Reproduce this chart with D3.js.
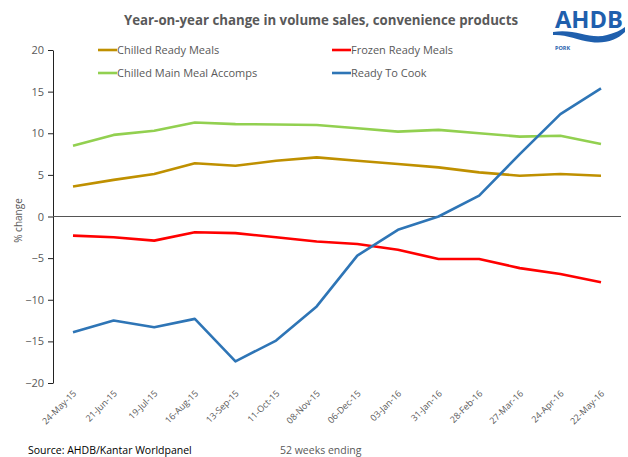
<!DOCTYPE html>
<html>
<head>
<meta charset="utf-8">
<script src="https://cdn.jsdelivr.net/npm/d3@7"></script>
<style>
  body { margin: 0; background: #fff; }
  text { font-family: "Open Sans", "Liberation Sans", sans-serif; fill: #595959; }
</style>
</head>
<body>
<div id="chart"></div>
<script>
const dates = ['24-May-15', '21-Jun-15', '19-Jul-15', '16-Aug-15', '13-Sep-15', '11-Oct-15', '08-Nov-15',
    '06-Dec-15', '03-Jan-16', '31-Jan-16', '28-Feb-16', '27-Mar-16', '24-Apr-16', '22-May-16'];

const chilledReady = [3.6, 4.4, 5.1, 6.4, 6.1, 6.7, 7.1, 6.7, 6.3, 5.9, 5.3, 4.9, 5.1, 4.9];
const frozenReady = [-2.3, -2.5, -2.9, -1.9, -2.0, -2.5, -3.0, -3.3, -4.0, -5.1, -5.1, -6.2, -6.9, -7.9];
const chilledAccomps = [8.5, 9.8, 10.3, 11.3, 11.1, 11.05, 11.0, 10.6, 10.2, 10.4, 10.0, 9.6, 9.7, 8.7];
const readyToCook = [-13.9, -12.5, -13.3, -12.3, -17.4, -14.9, -10.8, -4.7, -1.6, 0.0, 2.5, 7.5, 12.3, 15.4];

const yTicks = [-20, -15, -10, -5, 0, 5, 10, 15, 20];

const series = [
    { name: 'Chilled Ready Meals', values: chilledReady, color: '#BF9000' },
    { name: 'Frozen Ready Meals', values: frozenReady, color: '#FF0000' },
    { name: 'Chilled Main Meal Accomps', values: chilledAccomps, color: '#92D050' },
    { name: 'Ready To Cook', values: readyToCook, color: '#2E75B6' }
];

const width = 628, height = 457;
const svg = d3.select('#chart').append('svg')
    .attr('width', width)
    .attr('height', height);

const x = d3.scalePoint().domain(dates).range([73, 601]);
const y = d3.scaleLinear().domain([-20, 20]).range([383, 50]);

// title
svg.append('text')
    .attr('x', 124).attr('y', 25)
    .attr('font-size', 13.5).attr('font-weight', 'bold')
    .attr('textLength', 394).attr('lengthAdjust', 'spacingAndGlyphs')
    .text('Year-on-year change in volume sales, convenience products');

// logo
const logo = svg.append('g').attr('transform', 'translate(555,0)');
logo.append('text')
    .attr('x', 0).attr('y', 28)
    .attr('font-size', 24).attr('font-weight', 'bold')
    .attr('textLength', 68).attr('lengthAdjust', 'spacingAndGlyphs')
    .style('fill', '#1F5FAD')
    .text('AHDB');
logo.append('path')
    .attr('d', 'M-2,32 C20,28 35,40 52,35 C60,33 66,30 70,27 L70,32 C62,40 50,44 36,42 C22,40 10,34 -2,35 Z')
    .attr('fill', '#1F5FAD');
logo.append('text')
    .attr('x', 0).attr('y', 50)
    .attr('font-size', 5.5).attr('font-weight', 'bold')
    .style('fill', '#1F5FAD')
    .text('PORK');

// y axis
const yAxis = svg.append('g')
    .attr('transform', 'translate(53,0)')
    .call(d3.axisLeft(y).tickValues(yTicks).tickSize(5).tickSizeOuter(0).tickFormat(d3.format('d')));
yAxis.select('.domain').attr('stroke', '#222');
yAxis.selectAll('.tick line').attr('stroke', '#222');
yAxis.selectAll('.tick text')
    .attr('font-size', 11)
    .attr('x', -9)
    .style('fill', '#595959');

svg.append('text')
    .attr('transform', 'translate(22,' + (y(0) + 4) + ') rotate(-90)')
    .attr('text-anchor', 'middle')
    .attr('font-size', 10)
    .text('% change');

// zero line
svg.append('line')
    .attr('x1', 53).attr('x2', 621)
    .attr('y1', y(0)).attr('y2', y(0))
    .attr('stroke', '#555').attr('stroke-width', 1);

// x labels
svg.append('g').selectAll('text')
    .data(dates)
    .join('text')
    .attr('transform', d => 'translate(' + (x(d) + 4) + ',394) rotate(-45)')
    .attr('text-anchor', 'end')
    .attr('font-size', 9)
    .text(d => d);

// lines
const line = d3.line()
    .x((d, i) => x(dates[i]))
    .y(d => y(d));

svg.append('g').selectAll('path')
    .data(series)
    .join('path')
    .attr('d', d => line(d.values))
    .attr('fill', 'none')
    .attr('stroke', d => d.color)
    .attr('stroke-width', 2.6)
    .attr('stroke-linejoin', 'round');

// legend
const legendPos = [[98, 50], [332, 50], [98, 73], [332, 73]];
const legend = svg.append('g').selectAll('g')
    .data(series)
    .join('g')
    .attr('transform', (d, i) => 'translate(' + legendPos[i][0] + ',' + legendPos[i][1] + ')');
legend.append('line')
    .attr('x1', 0).attr('x2', 19)
    .attr('stroke', d => d.color)
    .attr('stroke-width', 2.6);
legend.append('text')
    .attr('x', 19).attr('y', 4)
    .attr('font-size', 11)
    .text(d => d.name);

// footer
svg.append('text')
    .attr('x', 28).attr('y', 454)
    .attr('font-size', 10.5)
    .style('fill', '#000')
    .text('Source: AHDB/Kantar Worldpanel');
svg.append('text')
    .attr('x', 280).attr('y', 454)
    .attr('font-size', 10.5)
    .text('52 weeks ending');
</script>
</body>
</html>
